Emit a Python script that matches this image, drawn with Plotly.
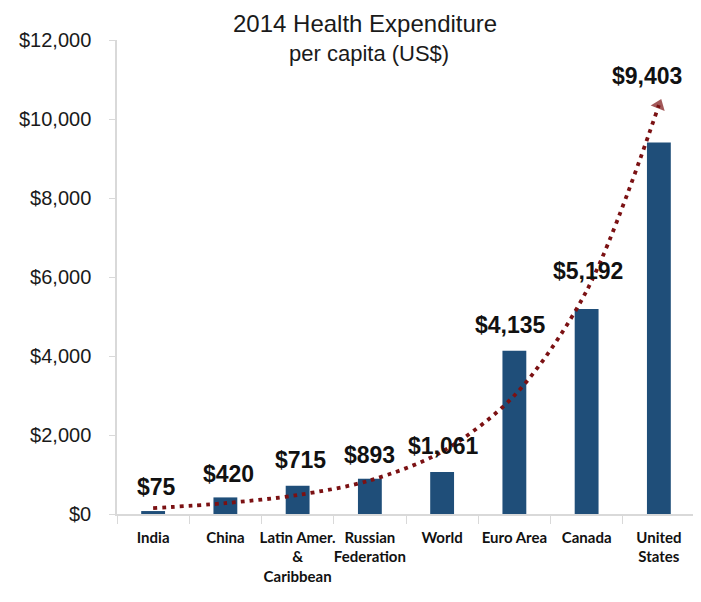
import plotly.graph_objects as go

# ---- data ----
categories = ["India", "China", "Latin Amer.<br>&amp;<br>Caribbean", "Russian<br>Federation",
              "World", "Euro Area", "Canada", "United<br>States"]
spending = [75, 420, 715, 893, 1061, 4135, 5192, 9403]
value_labels = ["$75", "$420", "$715", "$893", "$1,061", "$4,135", "$5,192", "$9,403"]
# dotted trend curve, values at each category
trend = [150, 275, 480, 850, 1580, 3000, 5650, 10350]
y_ticks = [0, 2000, 4000, 6000, 8000, 10000, 12000]
y_tick_labels = ["$0", "$2,000", "$4,000", "$6,000", "$8,000", "$10,000", "$12,000"]

BAR = "#1F4E79"
TREND = "#7B1113"
REG = "Liberation Sans, Arial, sans-serif"
CAT = "Lato, Liberation Sans, sans-serif"

fig = go.Figure()
fig.add_trace(go.Bar(
    x=categories, y=spending, marker=dict(color=BAR, line=dict(width=0)),
    width=0.33, hoverinfo="skip", showlegend=False,
))
n = len(trend)
fig.add_trace(go.Scatter(
    x=categories, y=trend, mode="lines+markers",
    line=dict(color=TREND, width=3.8, dash="3.8px,5px", shape="spline", smoothing=0.9),
    marker=dict(symbol="triangle-up", angleref="previous", color=TREND,
                size=[0] * (n - 1) + [13], line=dict(width=0)),
    hoverinfo="skip", showlegend=False, cliponaxis=False,
))

yshifts = [9, 8, 11, 9, 11, 11, 23, 52]
xshifts = [3, 3, 3, 0, 1, -4, 1, -12]
for c, v, t, ys, xs in zip(categories, spending, value_labels, yshifts, xshifts):
    fig.add_annotation(x=c, y=v, text="<b>" + t + "</b>", showarrow=False,
                       yanchor="bottom", yshift=ys, xshift=xs,
                       font=dict(family=REG, size=23, color="#111111"))

# page body adds an 8px offset; the figure is sized/margined to compensate
L, T, R, B = 109, 32, 6, 88
PW = 693 - L - R
PH = 594 - T - B
fig.add_annotation(xref="paper", yref="paper", x=(365 - 8 - L) / PW, y=1.002,
                   xanchor="center", yanchor="bottom", showarrow=False,
                   text="2014 Health Expenditure",
                   font=dict(family=REG, size=24, color="#1a1a1a"))
fig.add_annotation(xref="paper", yref="paper", x=(369 - 8 - L) / PW, y=0.941,
                   xanchor="center", yanchor="bottom", showarrow=False,
                   text="per capita (US$)",
                   font=dict(family=REG, size=22, color="#1a1a1a"))

fig.update_layout(
    width=693, height=594,
    margin=dict(l=L, r=R, t=T, b=B, autoexpand=False),
    paper_bgcolor="white", plot_bgcolor="white",
    bargap=0.67,
    xaxis=dict(
        type="category", tickson="boundaries", ticks="outside", ticklen=8,
        tickcolor="#D9D9D9", showline=True, linecolor="#D9D9D9", linewidth=1.5,
        showgrid=False, tickangle=0, automargin=False, ticklabelstandoff=9,
        tickfont=dict(family=CAT, size=15, color="#111111"),
        tickprefix="<b>", ticksuffix="</b>",
        range=[-0.5, len(categories) - 0.5],
    ),
    yaxis=dict(
        range=[0, 12000], tickvals=y_ticks, ticktext=y_tick_labels,
        ticks="outside", ticklen=6, tickcolor="#D9D9D9",
        showline=True, linecolor="#D9D9D9", linewidth=1.5, automargin=False,
        showgrid=False, zeroline=False, ticklabelstandoff=14,
        tickfont=dict(family=REG, size=20, color="#1a1a1a"),
    ),
)

fig.write_html("out.html")
